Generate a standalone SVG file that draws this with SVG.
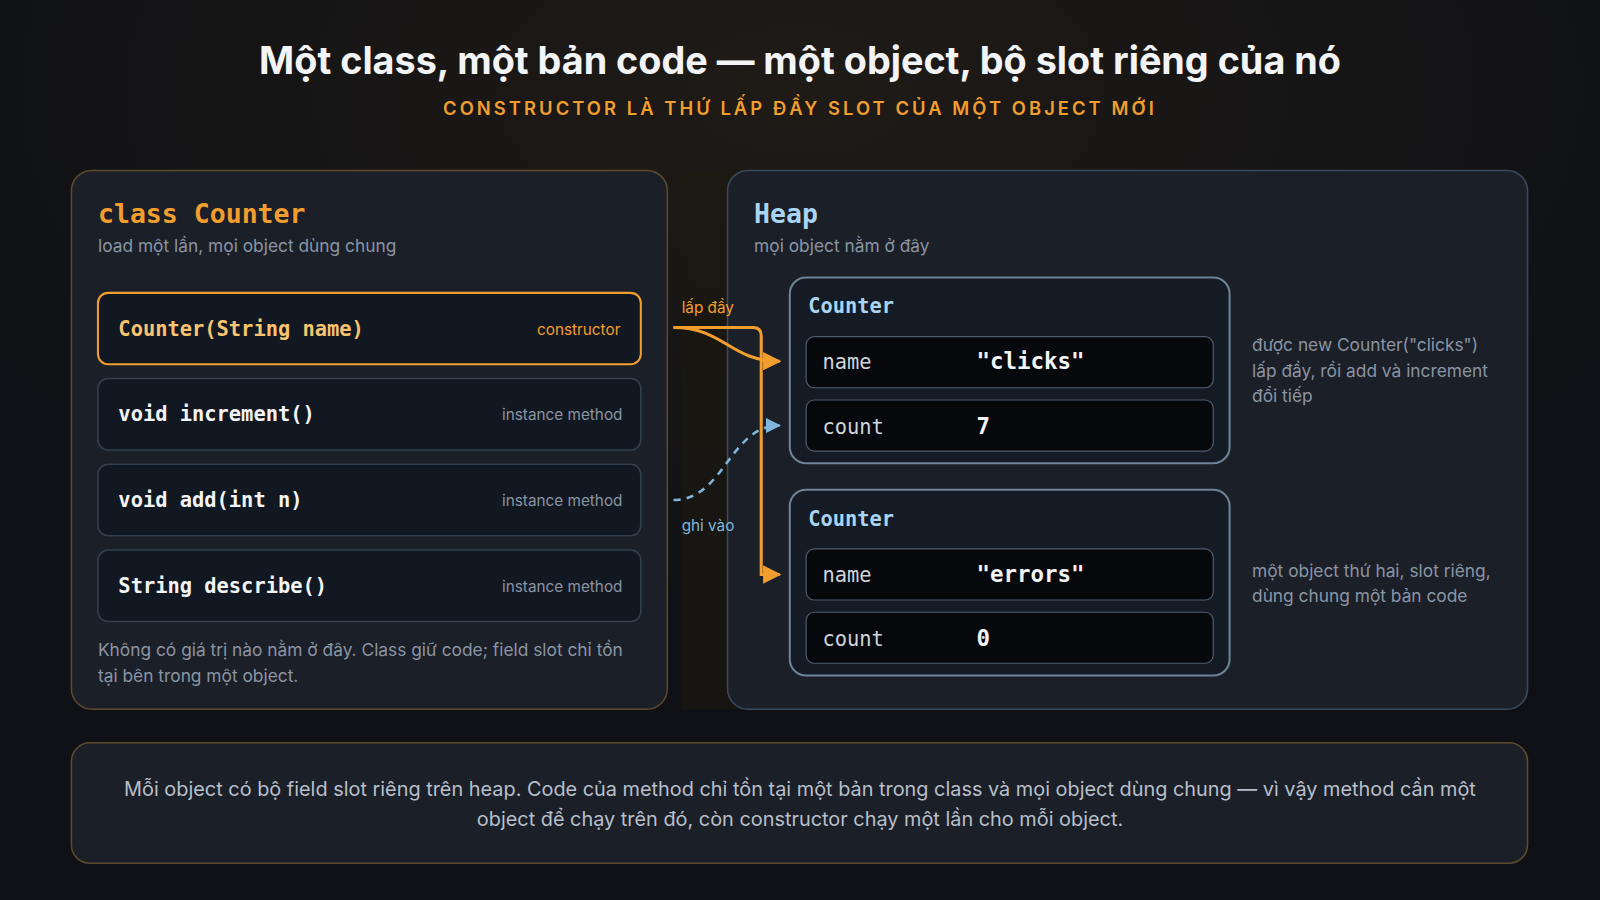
<svg xmlns="http://www.w3.org/2000/svg" width="1600" height="900" viewBox="0 0 1600 900">
<defs>
<style>
.sans{font-family:"Inter","Liberation Sans",sans-serif}
.mono{font-family:"DejaVu Sans Mono","Liberation Mono",monospace;font-weight:bold}
.panel{fill:#1b1f28;stroke-width:1.5}
.mbox{fill:#121821;stroke:#33404f;stroke-width:1.5}
.obj{fill:#141b25;stroke:#6d8396;stroke-width:2}
.row{fill:#06080c;stroke:#4d5c6c;stroke-width:1.2}
.lbl{fill:#8a94a3;font-size:15px}
.note{fill:#8a94a3;font-size:17px}
.fname{fill:#d0d5dc;font-size:20px;font-weight:normal}
.fval{fill:#f3f4f6;font-size:22px}
</style>
<marker id="ao" viewBox="0 0 10 10" refX="9" refY="5" markerWidth="6" markerHeight="6" orient="auto"><path d="M0,0L10,5L0,10z" fill="#f29e2e"/></marker>
<marker id="ab" viewBox="0 0 10 10" refX="9" refY="5" markerWidth="6" markerHeight="6" orient="auto"><path d="M0,0L10,5L0,10z" fill="#7fb6dc"/></marker>
<radialGradient id="glow" cx="0.5" cy="0.1" r="0.6"><stop offset="0" stop-color="#2a2116"/><stop offset="1" stop-color="#0e1015"/></radialGradient>
</defs>
<rect width="1600" height="900" fill="#0f1116"/>
<rect width="1600" height="900" fill="url(#glow)" opacity="0.6"/>
<g transform="scale(1.0204)">
<rect x="667" y="167" width="61" height="528" fill="#1e1911" opacity="0.55"/>
<g id="title">
<text x="784" y="73" text-anchor="middle" class="sans" font-size="37" font-weight="bold" fill="#f3f4f6">Một class, một bản code — một object, bộ slot riêng của nó</text>
<text x="784" y="113" text-anchor="middle" class="sans" font-size="18" font-weight="600" fill="#f29e2e" letter-spacing="3">CONSTRUCTOR LÀ THỨ LẤP ĐẦY SLOT CỦA MỘT OBJECT MỚI</text>
</g>
<g id="class-panel">
<rect x="70" y="167" width="584" height="528" rx="20" class="panel" stroke="#5e4a2c"/>
<text x="96" y="219" class="mono" font-size="26" fill="#f29e2e">class Counter</text>
<text x="96" y="247" class="sans note">load một lần, mọi object dùng chung</text>
<text x="96" y="643" class="sans note">Không có giá trị nào nằm ở đây. Class giữ code; field slot chỉ tồn</text>
<text x="96" y="668" class="sans note">tại bên trong một object.</text>
</g>
<g id="m-constructor">
<rect x="96" y="287" width="532" height="70" rx="10" fill="#121821" stroke="#f29e2e" stroke-width="2"/>
<text x="116" y="329" class="mono" font-size="20" fill="#f8c46f">Counter(String name)</text>
<text x="608" y="328" text-anchor="end" class="sans" font-size="15" fill="#f29e2e">constructor</text>
</g>
<g id="m-increment">
<rect x="96" y="371" width="532" height="70" rx="10" class="mbox"/>
<text x="116" y="413" class="mono" font-size="20" fill="#f3f4f6">void increment()</text>
<text x="610" y="412" text-anchor="end" class="sans lbl">instance method</text>
</g>
<g id="m-add">
<rect x="96" y="455" width="532" height="70" rx="10" class="mbox"/>
<text x="116" y="497" class="mono" font-size="20" fill="#f3f4f6">void add(int n)</text>
<text x="610" y="496" text-anchor="end" class="sans lbl">instance method</text>
</g>
<g id="m-describe">
<rect x="96" y="539" width="532" height="70" rx="10" class="mbox"/>
<text x="116" y="581" class="mono" font-size="20" fill="#f3f4f6">String describe()</text>
<text x="610" y="580" text-anchor="end" class="sans lbl">instance method</text>
</g>
<g id="heap-panel">
<rect x="713" y="167" width="784" height="528" rx="20" class="panel" stroke="#3a4a5c"/>
<text x="739" y="219" class="mono" font-size="26" fill="#a9d4f2">Heap</text>
<text x="739" y="247" class="sans note">mọi object nằm ở đây</text>
<text x="1227" y="344" class="sans note">được new Counter("clicks")</text>
<text x="1227" y="369" class="sans note">lấp đầy, rồi add và increment</text>
<text x="1227" y="394" class="sans note">đổi tiếp</text>
<text x="1227" y="565" class="sans note">một object thứ hai, slot riêng,</text>
<text x="1227" y="590" class="sans note">dùng chung một bản code</text>
</g>
<g id="obj-clicks">
<rect x="774" y="272" width="431" height="182" rx="16" class="obj"/>
<text x="792" y="307" class="mono" font-size="20" fill="#a9d4f2">Counter</text>
<rect x="790" y="330" width="399" height="50" rx="8" class="row"/>
<text x="806" y="362" class="mono fname">name</text>
<text x="957" y="362" class="mono fval">"clicks"</text>
<rect x="790" y="392" width="399" height="50" rx="8" class="row"/>
<text x="806" y="425" class="mono fname">count</text>
<text x="957" y="425" class="mono fval">7</text>
</g>
<g id="obj-errors">
<rect x="774" y="480" width="431" height="182" rx="16" class="obj"/>
<text x="792" y="515" class="mono" font-size="20" fill="#a9d4f2">Counter</text>
<rect x="790" y="538" width="399" height="50" rx="8" class="row"/>
<text x="806" y="570" class="mono fname">name</text>
<text x="957" y="570" class="mono fval">"errors"</text>
<rect x="790" y="600" width="399" height="50" rx="8" class="row"/>
<text x="806" y="633" class="mono fname">count</text>
<text x="957" y="633" class="mono fval">0</text>
</g>
<g id="connectors" fill="none">
<path d="M660,321 L738,321 Q746,321 746,329 L746,563 L764,563" stroke="#f29e2e" stroke-width="3" marker-end="url(#ao)"/>
<path d="M660,321 C710,321 715,354 764,354" stroke="#f29e2e" stroke-width="3" marker-end="url(#ao)"/>
<path d="M660,490 C710,490 715,417 764,417" stroke="#7fb6dc" stroke-width="2.5" stroke-dasharray="7,6" marker-end="url(#ab)"/>
<text x="668" y="307" class="sans" font-size="15" fill="#f29e2e">lấp đầy</text>
<text x="668" y="520" class="sans" font-size="15" fill="#7fb6dc">ghi vào</text>
</g>
<g id="summary">
<rect x="70" y="728" width="1427" height="118" rx="18" fill="#1b1f28" stroke="#5e4a2c" stroke-width="1.5"/>
<text x="784" y="780" text-anchor="middle" class="sans" font-size="19.5" fill="#b8bfca">Mỗi object có bộ field slot riêng trên heap. Code của method chỉ tồn tại một bản trong class và mọi object dùng chung — vì vậy method cần một</text>
<text x="784" y="809" text-anchor="middle" class="sans" font-size="19.5" fill="#b8bfca">object để chạy trên đó, còn constructor chạy một lần cho mỗi object.</text>
</g>
</g>
</svg>
